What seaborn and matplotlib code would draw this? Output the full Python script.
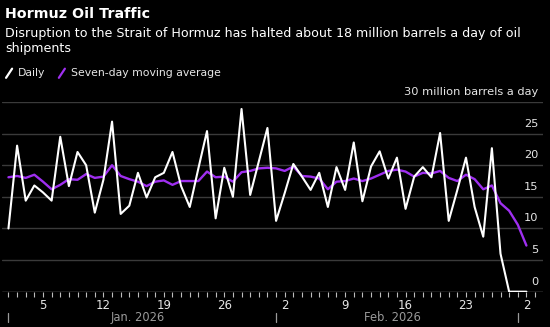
import matplotlib
matplotlib.use("Agg")
import matplotlib.pyplot as plt
import matplotlib.dates as mdates
import matplotlib.transforms as mtransforms
import numpy as np
import pandas as pd
import seaborn as sns

# Daily flows through the Strait of Hormuz, million barrels a day
start_date = "2026-01-01"
daily = [10.0, 23.1, 14.4, 16.8, 15.7, 14.4, 24.5, 16.7, 22.1, 20.0,
         12.5, 17.7, 26.9, 12.3, 13.6, 18.8, 14.9, 18.1, 18.8, 22.1,
         16.7, 13.4, 19.5, 25.4, 11.6, 19.6, 15.0, 28.9, 15.3, 20.6,
         25.9, 11.2, 15.6, 20.2, 18.2, 16.1, 18.8, 13.4, 19.7, 16.1,
         23.6, 14.3, 19.8, 22.2, 17.9, 21.2, 13.1, 18.2, 19.7, 18.1,
         25.1, 11.2, 16.1, 21.2, 13.4, 8.7, 22.7, 6.0, 0.0, 0.0, 0.0]
moving_avg = [18.1, 18.3, 18.0, 18.5, 17.4, 16.2, 16.9, 17.8, 17.7, 18.6,
              18.0, 18.2, 20.0, 18.3, 17.8, 17.4, 16.7, 17.4, 17.6, 16.9,
              17.5, 17.5, 17.5, 19.0, 18.1, 18.2, 17.4, 18.9, 19.1, 19.5,
              19.6, 19.5, 19.1, 19.8, 18.3, 18.2, 17.9, 16.2, 17.4, 17.5,
              17.9, 17.5, 17.9, 18.5, 19.1, 19.3, 19.0, 18.2, 18.8, 18.7,
              19.1, 18.0, 17.5, 18.5, 17.8, 16.2, 16.8, 14.0, 12.8, 10.6, 7.3]
y_ticks = [0, 5, 10, 15, 20, 25, 30]
month_labels = ["Jan. 2026", "Feb. 2026"]

dates = pd.date_range(start_date, periods=len(daily), freq="D")
df = pd.DataFrame({"date": dates, "Daily": daily, "Seven-day moving average": moving_avg})

BG = "#000000"
GRID = "#3a3a3a"
PURPLE = "#9f2ff0"
TEXT = "#e6e6e6"
MUTED = "#9a9a9a"

sns.set_theme(style="dark", rc={"axes.facecolor": BG, "figure.facecolor": BG})
plt.rcParams["font.family"] = ["DejaVu Sans"]

fig = plt.figure(figsize=(5.5, 3.27), dpi=100)
ax = fig.add_axes([0.0036, 0.108, 0.9836, 0.580])
ax.set_facecolor(BG)

# gridlines
for v in y_ticks[1:]:
    ax.axhline(v, color=GRID, lw=1.0, zorder=1)
ax.axhline(0, color="#8a8a8a", lw=1.0, zorder=1)

sns.lineplot(data=df, x="date", y="Seven-day moving average", color=PURPLE,
             lw=1.7, ax=ax, zorder=3)
sns.lineplot(data=df, x="date", y="Daily", color="white", lw=1.5, ax=ax, zorder=4)

x0 = dates[0] - pd.Timedelta(hours=18)
x1 = dates[-1] + pd.Timedelta(hours=46)
ax.set_xlim(x0, x1)
ax.set_ylim(0, 30)
ax.set_xlabel("")
ax.set_ylabel("")
for s in ax.spines.values():
    s.set_visible(False)
ax.set_yticks([])

# daily ticks with labels on Mondays
ax.xaxis.set_major_locator(mdates.WeekdayLocator(byweekday=mdates.MO))
ax.xaxis.set_major_formatter(mdates.DateFormatter("%-d"))
ax.xaxis.set_minor_locator(mdates.DayLocator())
ax.tick_params(axis="x", which="both", bottom=True, length=3.5, width=0.8,
               color="#bdbdbd", direction="out", pad=1.5, labelsize=8.5,
               labelcolor=TEXT)

# y labels sitting above the gridlines at the right edge
yt = mtransforms.blended_transform_factory(ax.transAxes, ax.transData)
for v in y_ticks:
    label = "30 million barrels a day" if v == 30 else str(v)
    ax.text(0.992, v + 0.8, label, transform=yt, ha="right", va="bottom",
            fontsize=8.2, color=TEXT)

# month labels and separators below the day labels
xt = mtransforms.blended_transform_factory(ax.transData, ax.transAxes)
month_starts = [pd.Timestamp("2026-01-01"), pd.Timestamp("2026-02-01"),
                pd.Timestamp("2026-03-01")]
for m in month_starts:
    ax.plot([m, m], [-0.115, -0.16], transform=xt, color=MUTED, lw=0.9,
            clip_on=False)
ax.text(pd.Timestamp("2026-01-16"), -0.135, month_labels[0], transform=xt,
        ha="center", va="center", fontsize=8.3, color=MUTED)
ax.text(pd.Timestamp("2026-02-14 12:00"), -0.135, month_labels[1], transform=xt,
        ha="center", va="center", fontsize=8.3, color=MUTED)

# header
fig.text(0.009, 0.957, "Hormuz Oil Traffic", fontsize=10.3, fontweight="bold",
         color="white", va="center", ha="left")
fig.text(0.009, 0.897, "Disruption to the Strait of Hormuz has halted about 18 million barrels a day of oil",
         fontsize=9.1, color="white", va="center", ha="left")
fig.text(0.009, 0.851, "shipments", fontsize=9.1, color="white", va="center", ha="left")

# legend
ly = 0.776
fig.add_artist(plt.Line2D([0.011, 0.022], [ly - 0.014, ly + 0.014], color="white",
                          lw=1.6, transform=fig.transFigure))
fig.text(0.033, ly, "Daily", fontsize=7.8, color=TEXT, va="center", ha="left")
fig.add_artist(plt.Line2D([0.107, 0.118], [ly - 0.014, ly + 0.014], color=PURPLE,
                          lw=1.6, transform=fig.transFigure))
fig.text(0.129, ly, "Seven-day moving average", fontsize=7.8, color=TEXT,
         va="center", ha="left")

fig.savefig("out.png", dpi=100, facecolor=BG)
